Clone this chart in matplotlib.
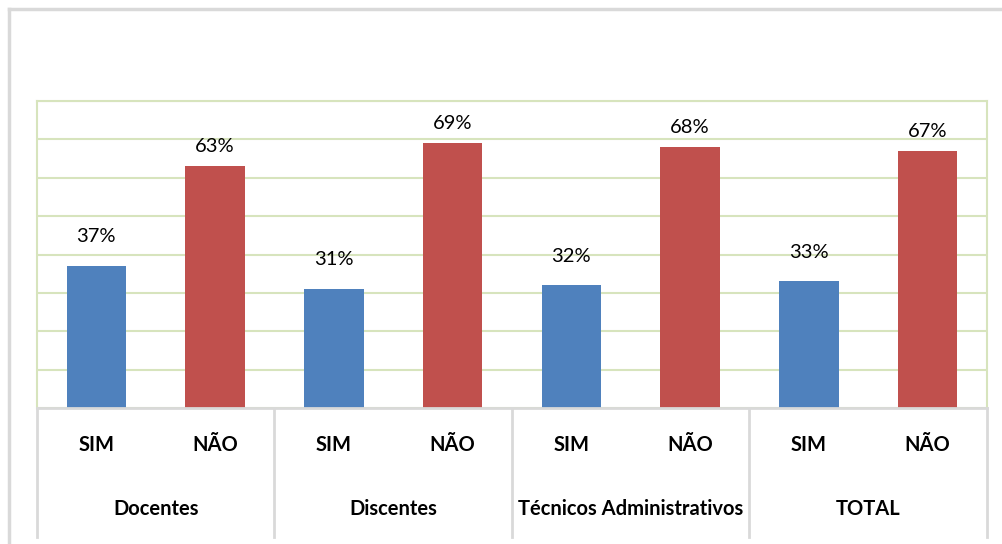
import matplotlib
matplotlib.use("Agg")
import matplotlib.pyplot as plt
from matplotlib.lines import Line2D
import matplotlib.transforms as mtransforms

groups = ["Docentes", "Discentes", "Técnicos Administrativos", "TOTAL"]
answers = ["SIM", "NÃO"]
sim_values = [37, 31, 32, 33]
nao_values = [63, 69, 68, 67]
y_ticks = [0, 10, 20, 30, 40, 50, 60, 70, 80]

plt.rcParams['font.family'] = ['Lato', 'DejaVu Sans']

fig = plt.figure(figsize=(10.03, 5.44), dpi=100)
ax = fig.add_axes([37/1003, 1-408/544, 950/1003, 307/544])

grid_c = "#D7E4BD"
sep_c = "#D9D9D9"
colors = {"SIM": "#4F81BD", "NÃO": "#C0504D"}
label_offsets = {"SIM": 21, "NÃO": 14}

xs_sim = [2*i for i in range(len(groups))]
xs_nao = [2*i + 1 for i in range(len(groups))]

for series, xs, vals in [("SIM", xs_sim, sim_values), ("NÃO", xs_nao, nao_values)]:
    ax.bar(xs, vals, width=0.5, color=colors[series], zorder=3)
    for x, v in zip(xs, vals):
        ax.annotate(f"{v}%", (x, v), xytext=(0, label_offsets[series]),
                    textcoords="offset points", ha="center", va="center",
                    fontsize=14.5, color="#000000")

ax.set_xlim(-0.5, 2*len(groups) - 0.5)
ax.set_ylim(y_ticks[0], y_ticks[-1])
ax.set_yticks(y_ticks)
ax.yaxis.grid(True, color=grid_c, linewidth=1.5, zorder=0)
ax.tick_params(axis="both", length=0, labelleft=False, labelbottom=False)
for side in ["top", "left", "right"]:
    ax.spines[side].set_color(grid_c)
    ax.spines[side].set_linewidth(1.5)
ax.spines["bottom"].set_color(sep_c)
ax.spines["bottom"].set_linewidth(2)
ax.spines["bottom"].set_zorder(4)

trans = mtransforms.blended_transform_factory(ax.transData, ax.transAxes)
for i, g in enumerate(groups):
    for j, a in enumerate(answers):
        ax.text(2*i + j, -0.1205, a, transform=trans, ha="center", va="center",
                fontsize=14.5, fontweight="bold")
    ax.text(2*i + 0.5, -0.329, g, transform=trans, ha="center", va="center",
            fontsize=14.5, fontweight="bold")
for k in range(len(groups) + 1):
    ax.add_line(Line2D([2*k - 0.5, 2*k - 0.5], [0, -0.42], transform=trans,
                       color=sep_c, linewidth=2, clip_on=False))

# outer chart border
fig.add_artist(Line2D([9/1003, 9/1003], [0, 1-9/544], transform=fig.transFigure,
                      color=sep_c, linewidth=2.5))
fig.add_artist(Line2D([9/1003, 1], [1-9/544, 1-9/544], transform=fig.transFigure,
                      color=sep_c, linewidth=2.5))

fig.savefig("out.png", dpi=100)
